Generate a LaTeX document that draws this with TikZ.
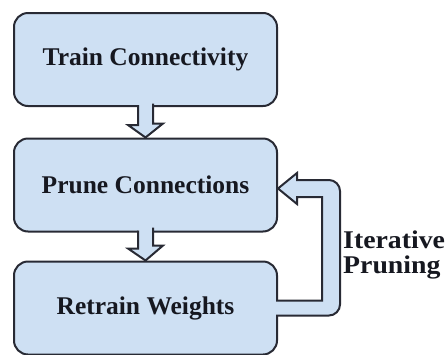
\documentclass[tikz,border=0pt]{standalone}
\usepackage{fontspec}
\setmainfont{Liberation Serif}
\definecolor{boxfill}{RGB}{206,224,243}
\definecolor{edge}{RGB}{40,42,52}
\definecolor{txt}{RGB}{22,24,32}
\begin{document}
\begin{tikzpicture}[x=1pt,y=-1pt,
  box/.style={draw=edge, fill=boxfill, line width=2pt, rounded corners=14pt,
    minimum width=263pt, minimum height=93pt, inner sep=0pt,
    font=\fontsize{25.5}{28}\selectfont\bfseries, text=txt},
  bigarrow/.style={draw=edge, fill=boxfill, line width=2pt, line join=miter},
  lbl/.style={font=\fontsize{25.5}{25}\selectfont\bfseries, text=txt, align=left, inner sep=0pt}]
\useasboundingbox (0,0) rectangle (445,354);
\node[box] (b1) at (145.5,59.5) {Train Connectivity};
\node[box] (b2) at (145.5,185) {Prune Connections};
\node[box] (b3) at (145.5,308) {Retrain Weights};
% down arrows
\filldraw[bigarrow] ([xshift=-7.5pt,yshift=2pt]b1.south) -- ++(0,20) -- ++(-10,0)
  -- (b2.north) -- ++(17.5,-14) -- ++(-10,0) -- ++(0,-20);
\filldraw[bigarrow] ([xshift=-7.5pt,yshift=2pt]b2.south) -- ++(0,18) -- ++(-10,0)
  -- (b3.north) -- ++(17.5,-15) -- ++(-10,0) -- ++(0,-18);
% loop arrow
\coordinate (tip) at ([yshift=-3.5pt]b2.east);
\coordinate (start) at ([xshift=-2pt,yshift=7.5pt]b3.east);
\coordinate (end) at ([xshift=-2pt,yshift=-7.5pt]b3.east);
\filldraw[bigarrow] (start) -- (322,300.5) -- (322,197) -- (297,197) -- (297,204)
  -- (tip) -- (297,173) -- (297,180) -- (329,180)
  .. controls (335,180) and (340,185) .. (340,191) -- (340,304.5)
  .. controls (340,310.5) and (335,315.5) .. (329,315.5) -- (end);
\node[lbl, anchor=north west] (it) at (343,231) {\scalebox{1.09}[1]{Iterative}\\\scalebox{1.09}[1]{Pruning}};
\end{tikzpicture}
\end{document}
